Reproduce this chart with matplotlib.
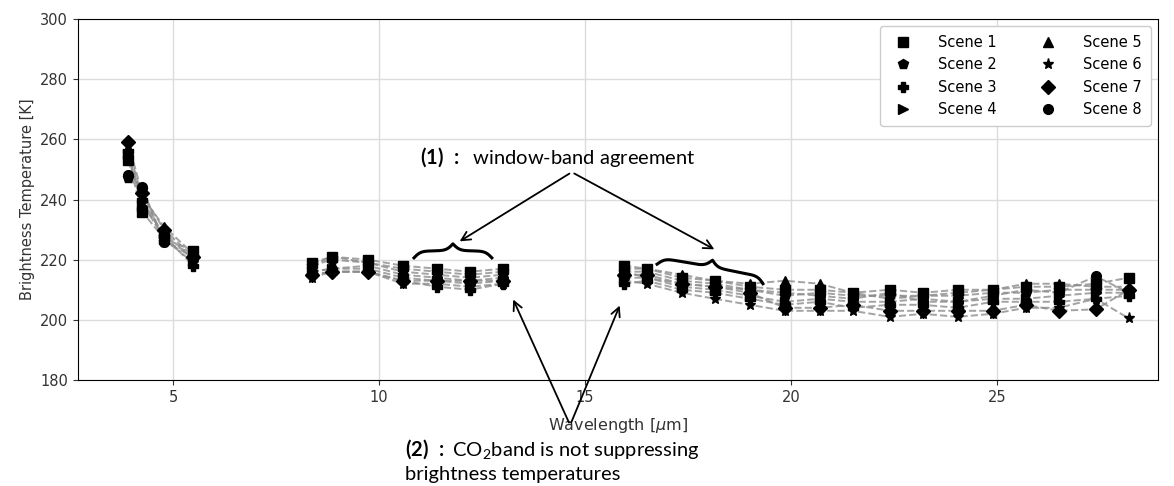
import numpy as np
import matplotlib
matplotlib.use('Agg')
import matplotlib.pyplot as plt

# ── Data ─────────────────────────────────────────────────────────────────────
wavelengths = [3.91, 4.25, 4.78, 5.49,
               8.37, 8.86, 9.73, 10.58, 11.41, 12.21, 13.01,
               15.95, 16.5, 17.35, 18.15, 19.0, 19.85, 20.7, 21.5,
               22.4, 23.2, 24.05, 24.9, 25.7, 26.5, 27.4, 28.2]

bt_scene1 = [253, 236, 227, 223,
             219, 221, 220, 218, 217, 216, 217,
             218, 217, 214, 213, 211, 210, 210, 209, 210, 209, 210, 210, 211, 211, 212, 214]
bt_scene2 = [247, 243, 226, 221,
             218, 220, 219, 217, 216, 215, 216,
             216, 216, 213, 212, 210, 208, 209, 208, 208, 208, 208, 209, 209, 210, 210, 210]
bt_scene3 = [256, 240, 228, 218,
             215, 216, 216, 213, 211, 210, 212,
             212, 213, 210, 209, 207, 205, 206, 204, 205, 205, 204, 206, 206, 206, 207, 208]
bt_scene4 = [255, 238, 229, 220,
             216, 217, 217, 214, 213, 212, 213,
             214, 214, 211, 210, 208, 206, 207, 206, 206, 207, 206, 207, 207, 208, 209, 209]
bt_scene5 = [257, 241, 231, 222,
             218, 221, 219, 216, 215, 214, 215,
             217, 217, 215, 213, 212, 213, 212, 209, 207, 208, 209, 210, 212, 212, 211, 211]
bt_scene6 = [254, 239, 227, 219,
             214, 216, 216, 212, 212, 211, 212,
             213, 212, 209, 207, 205, 203, 203, 203, 201, 202, 201, 202, 204, 204, 207, 200.5]
bt_scene7 = [259, 242, 230, 221,
             215, 216, 216, 213, 213, 213, 213,
             215, 215, 212, 211, 209, 204, 204, 205, 203, 203, 203, 203, 205, 203, 203.5, 210]
bt_scene8 = [248, 244, 226, 222,
             216, 217, 218, 215, 214, 213, 214,
             216, 214, 212, 211, 210, 209, 208, 207, 209, 206, 206, 208, 210, 209, 214.5, 209]

scene_labels = ['Scene 1', 'Scene 2', 'Scene 3', 'Scene 4',
                'Scene 5', 'Scene 6', 'Scene 7', 'Scene 8']

# ── Style ────────────────────────────────────────────────────────────────────
scenes = [bt_scene1, bt_scene2, bt_scene3, bt_scene4,
          bt_scene5, bt_scene6, bt_scene7, bt_scene8]
markers = ['s', 'p', 'P', '>', '^', '*', 'D', 'o']
bands = [(0, 4), (4, 11), (11, 27)]   # index ranges of the three detector bands

plt.rcParams['mathtext.fontset'] = 'custom'
plt.rcParams['mathtext.rm'] = 'Lato'
plt.rcParams['mathtext.bf'] = 'Lato:bold'
plt.rcParams['mathtext.it'] = 'DejaVu Sans:italic'

W, H = 1174, 486
fig = plt.figure(figsize=(W / 100, H / 100), dpi=100)
ax = fig.add_axes([78 / W, 1 - 380 / H, (1158 - 78) / W, (380 - 19) / H])

wl = np.array(wavelengths)
for vals, mk, lab in zip(scenes, markers, scene_labels):
    vals = np.array(vals, dtype=float)
    for i0, i1 in bands:
        ax.plot(wl[i0:i1], vals[i0:i1], ls='--', color='#8c8c8c',
                lw=1.4, alpha=0.8, zorder=2)
    ax.plot(wl, vals, ls='none', marker=mk, color='black',
            markersize=8 if mk == '*' else 7, label=lab, zorder=3)

ax.set_xlim(2.694, 28.91)
ax.set_ylim(180, 300)
ax.set_xticks([5, 10, 15, 20, 25])
ax.set_yticks(np.arange(180, 301, 20))
ax.grid(True, color='#dcdcdc', lw=1.0)
ax.set_axisbelow(True)
ax.tick_params(labelsize=10.5, colors='#333333')
ax.set_xlabel(r'Wavelength [$\mu$m]', fontsize=11.5, color='#333333', labelpad=8)
ax.set_ylabel('Brightness Temperature [K]', fontsize=10.5, color='#333333')

ax.legend(loc='upper right', ncol=2, fontsize=10.5, columnspacing=2.5,
          handletextpad=1.4, framealpha=1.0, borderpad=0.6)

fig.canvas.draw()


def brace(ax, p0, p1, height=14, beta=0.3):
    """Curly brace between two data points, tip pointing 'up' (left normal)."""
    a = ax.transData.transform(p0)
    b = ax.transData.transform(p1)
    d = b - a
    L = np.hypot(*d)
    u = d / L
    n = np.array([-u[1], u[0]])
    t = np.linspace(0, L / 2, 200)
    half = 1 / (1 + np.exp(-beta * t)) + 1 / (1 + np.exp(-beta * (t - L / 2)))
    s = np.concatenate([t, L - t[::-1]])
    h = np.concatenate([half, half[::-1]]) - 0.5
    pts = a + np.outer(s, u) + np.outer(h * height, n)
    data = ax.transData.inverted().transform(pts)
    ax.plot(data[:, 0], data[:, 1], color='black', lw=2.2, clip_on=False, zorder=5)


brace(ax, (10.85, 220.6), (12.74, 220.6))
brace(ax, (16.75, 218.5), (19.32, 212.0))

arrow_kw = dict(arrowstyle='->', color='black', lw=1.3, mutation_scale=16)

# (1) window-band agreement
ax.text(11.0, 254.1, r'$\bf{(1)\ :}$  window-band agreement', fontsize=14.5,
        family='Lato', ha='left', va='center')
for tip in [(11.9, 225.6), (18.2, 223.0)]:
    ax.annotate('', xy=tip, xytext=(14.68, 249.1), arrowprops=arrow_kw)

# (2) CO2 band
for tip in [(13.23, 207.6), (15.87, 205.6)]:
    ax.annotate('', xy=tip, xytext=(14.64, 165.0), arrowprops=arrow_kw,
                annotation_clip=False)
fig.text(405 / W, 1 - 449 / H, r'$\bf{(2)\ :}$ CO$_2$band is not suppressing',
         fontsize=14.5, family='Lato', ha='left', va='center')
fig.text(405 / W, 1 - 474 / H, 'brightness temperatures',
         fontsize=14.5, family='Lato', ha='left', va='center')

fig.savefig('out.png', dpi=100)
